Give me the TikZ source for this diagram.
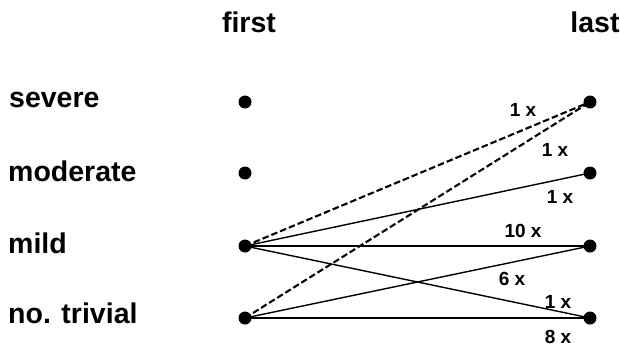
\documentclass[tikz,border=0pt]{standalone}
\usepackage{fontspec}
\setmainfont{Liberation Sans}
\begin{document}
\begin{tikzpicture}[x=1pt,y=-1pt,
  dot/.style={circle,fill=black,inner sep=0pt,minimum size=13pt},
  rowlabel/.style={anchor=base west,inner sep=0pt,font=\fontsize{28.5}{30}\selectfont\bfseries},
  head/.style={anchor=base,inner sep=0pt,font=\fontsize{28.5}{30}\selectfont\bfseries},
  cnt/.style={inner sep=0pt,font=\fontsize{19}{21}\selectfont\bfseries},
  link/.style={line width=1.4pt},
  dlink/.style={line width=2.1pt,dash pattern=on 6.5pt off 3pt}]
\useasboundingbox (0,0) rectangle (620,348);
% headers
\node[head] (hfirst) at (249,32) {first};
\node[head] (hlast) at (595,32) {last};
% row labels
\node[rowlabel] (lsev) at (9,107) {severe};
\node[rowlabel] (lmod) at (8,181) {moderate};
\node[rowlabel] (lmil) at (8,253) {mild};
\node[rowlabel] (ltri) at (8,323) {no. trivial};
% dots
\node[dot] (f1) at (245,102) {};
\node[dot] (f2) at (245,173) {};
\node[dot] (f3) at (245,246) {};
\node[dot] (f4) at (245,318) {};
\node[dot] (l1) at (590,102) {};
\node[dot] (l2) at (590,173) {};
\node[dot] (l3) at (590,246) {};
\node[dot] (l4) at (590,318) {};
% connectors
\draw[dlink] (f3.center) -- (l1.center);
\draw[dlink] (f4.center) -- (l1.center);
\draw[link] (f3.center) -- (l2.center);
\draw[link] (f3.center) -- (l3.center);
\draw[link] (f4.center) -- (l3.center);
\draw[link] (f3.center) -- (l4.center);
\draw[link] (f4.center) -- (l4.center);
% counts
\node[cnt] (c1) at (523,110) {1 x};
\node[cnt] (c2) at (555,150) {1 x};
\node[cnt] (c3) at (560,197) {1 x};
\node[cnt] (c4) at (523,231) {10 x};
\node[cnt] (c5) at (512,279) {6 x};
\node[cnt] (c6) at (558,302) {1 x};
\node[cnt] (c7) at (558,337) {8 x};
\end{tikzpicture}
\end{document}
